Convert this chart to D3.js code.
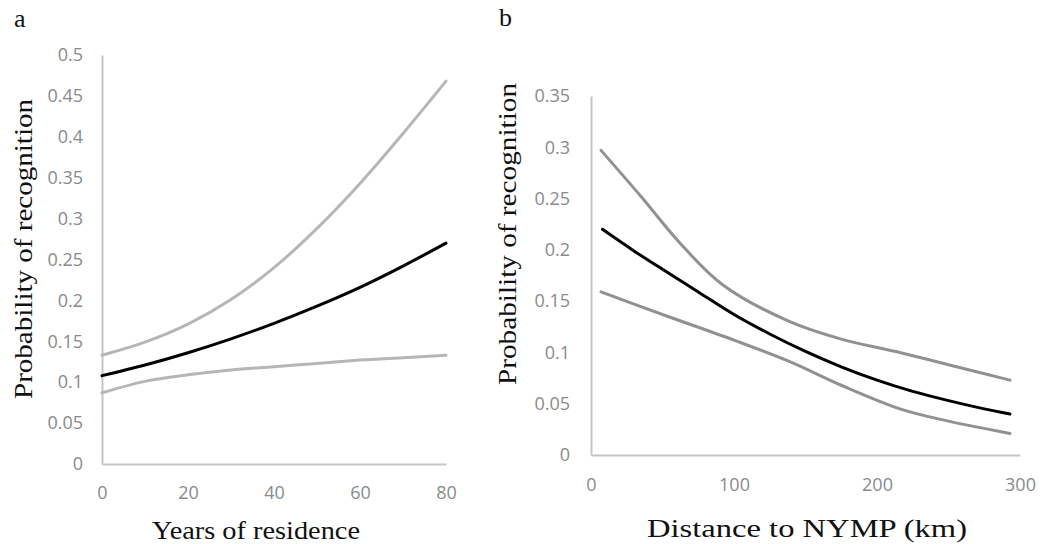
<!DOCTYPE html>
<html>
<head>
<meta charset="utf-8">
<script src="https://cdn.jsdelivr.net/npm/d3@7"></script>
<style>
  body { margin: 0; background: #fff; }
  .title { font-family: "Liberation Serif", serif; font-size: 26px; fill: #111; }
</style>
</head>
<body>
<div id="chart"></div>
<script>
// panel a: years of residence
const yearsA = [0, 10, 20, 30, 40, 50, 60, 70, 80];
const upperA = [0.133, 0.149, 0.171, 0.201, 0.240, 0.288, 0.343, 0.404, 0.468];
const meanA  = [0.108, 0.121, 0.136, 0.153, 0.172, 0.193, 0.216, 0.242, 0.270];
const lowerA = [0.087, 0.101, 0.109, 0.115, 0.119, 0.123, 0.127, 0.130, 0.133];
const xTicksA = [0, 20, 40, 60, 80];
const yTicksA = [0, 0.05, 0.1, 0.15, 0.2, 0.25, 0.3, 0.35, 0.4, 0.45, 0.5];

// panel b: distance to NYMP (km)
const distUpperB = [7, 35, 62, 92, 139, 175, 216, 250, 293];
const upperB     = [0.297, 0.252, 0.207, 0.166, 0.130, 0.113, 0.100, 0.088, 0.073];
const distMeanB  = [8, 30, 50, 75, 100, 125, 150, 175, 200, 225, 250, 275, 293];
const meanB      = [0.220, 0.199, 0.181, 0.159, 0.137, 0.118, 0.101, 0.086, 0.073, 0.062, 0.053, 0.045, 0.040];
const distLowerB = [7, 50, 100, 139, 175, 216, 250, 293];
const lowerB     = [0.159, 0.137, 0.112, 0.091, 0.068, 0.045, 0.033, 0.021];
const xTicksB = [0, 100, 200, 300];
const yTicksB = [0, 0.05, 0.1, 0.15, 0.2, 0.25, 0.3, 0.35];

const fmt = d => String(+d.toFixed(2));

var svg = d3.select("#chart").append("svg")
    .attr("width", 1045)
    .attr("height", 544);

function styleAxis(g) {
    g.selectAll(".tick text")
        .style("font-family", "Open Sans, sans-serif")
        .style("font-size", "18px")
        .attr("fill", "#878b8e");
    g.select(".domain").attr("stroke", "#c3c5c7").attr("stroke-width", 2);
}

function panel(p) {
    var x = d3.scaleLinear().domain(p.xDomain).range(p.xRange);
    var y = d3.scaleLinear().domain(p.yDomain).range(p.yRange);

    svg.append("g")
        .attr("transform", "translate(0," + p.yRange[0] + ")")
        .call(d3.axisBottom(x).tickValues(p.xTicks).tickSize(0).tickPadding(p.xPad))
        .call(styleAxis);
    svg.append("g")
        .attr("transform", "translate(" + p.xRange[0] + ",0)")
        .call(d3.axisLeft(y).tickValues(p.yTicks).tickFormat(fmt).tickSize(0).tickPadding(p.yPad))
        .call(styleAxis);

    var line = d3.line()
        .curve(d3.curveCatmullRom.alpha(0.5))
        .x(function (d) { return x(d[0]); })
        .y(function (d) { return y(d[1]); });

    p.series.forEach(function (s) {
        svg.append("path")
            .datum(s.xs.map(function (v, i) { return [v, s.values[i]]; }))
            .attr("fill", "none")
            .attr("stroke", s.color)
            .attr("stroke-width", 3)
            .attr("stroke-linecap", "round")
            .attr("d", line);
    });

    // titles
    svg.append("text").attr("class", "title")
        .attr("x", p.xTitle[0]).attr("y", p.xTitle[1])
        .attr("text-anchor", "middle")
        .attr("textLength", p.xTitle[2]).attr("lengthAdjust", "spacingAndGlyphs")
        .text(p.xLabel);
    svg.append("text").attr("class", "title")
        .attr("transform", "translate(" + p.yTitle[0] + "," + p.yTitle[1] + ") rotate(-90)")
        .attr("text-anchor", "middle")
        .attr("textLength", p.yTitle[2]).attr("lengthAdjust", "spacingAndGlyphs")
        .text("Probability of recognition");
    svg.append("text").attr("class", "title")
        .attr("x", p.tag[0]).attr("y", p.tag[1])
        .text(p.tagText);
}

panel({
    xDomain: [0, 80], xRange: [102, 446],
    yDomain: [0, 0.5], yRange: [464, 55],
    xTicks: xTicksA, yTicks: yTicksA, xPad: 22, yPad: 19,
    series: [
        { xs: yearsA, values: upperA, color: "#b4b7b9" },
        { xs: yearsA, values: lowerA, color: "#b4b7b9" },
        { xs: yearsA, values: meanA, color: "#000" }
    ],
    xLabel: "Years of residence", xTitle: [256, 539, 208],
    yTitle: [32, 249, 300],
    tag: [14, 27], tagText: "a"
});

panel({
    xDomain: [0, 300], xRange: [591, 1020],
    yDomain: [0, 0.35], yRange: [455, 96],
    xTicks: xTicksB, yTicks: yTicksB, xPad: 23, yPad: 21,
    series: [
        { xs: distUpperB, values: upperB, color: "#8f9193" },
        { xs: distLowerB, values: lowerB, color: "#8f9193" },
        { xs: distMeanB, values: meanB, color: "#000" }
    ],
    xLabel: "Distance to NYMP (km)", xTitle: [807, 537, 320],
    yTitle: [516, 234, 302],
    tag: [499, 26], tagText: "b"
});
</script>
</body>
</html>
